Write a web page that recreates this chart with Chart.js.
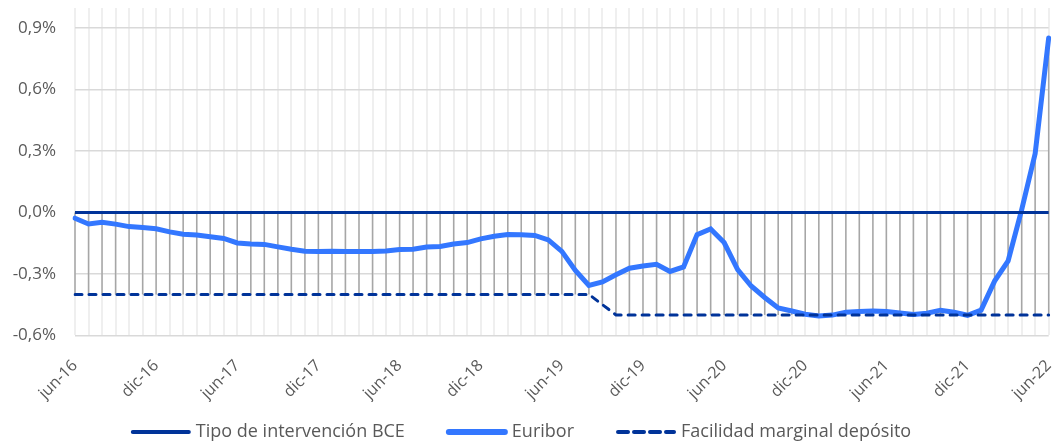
<!DOCTYPE html>
<html>
<head>
<meta charset="utf-8">
<script src="https://cdn.jsdelivr.net/npm/chart.js@4.4.1/dist/chart.umd.min.js"></script>
<style>
    html, body { margin: 0; padding: 0; background: #fff; }
    #wrap { width: 1060px; height: 443px; position: relative; }
</style>
</head>
<body>
<div id="wrap"><canvas id="chart"></canvas></div>
<script>
const monthNames = ['ene', 'feb', 'mar', 'abr', 'may', 'jun', 'jul', 'ago', 'sep', 'oct', 'nov', 'dic'];

// months jun-16 .. jun-22
const labels = [];
for (let y = 16; y <= 22; y++) {
    for (let m = 0; m < 12; m++) {
        if ((y === 16 && m < 5) || (y === 22 && m > 5)) continue;
        labels.push(monthNames[m] + '-' + y);
    }
}

const yTicks = [-0.6, -0.3, 0, 0.3, 0.6, 0.9];

const tipoBCE = labels.map(() => 0);

const euribor = [
    -0.028, -0.056, -0.048, -0.057, -0.069, -0.074, -0.080,
    -0.095, -0.106, -0.110, -0.119, -0.127, -0.149, -0.154, -0.156, -0.168, -0.180, -0.189, -0.190,
    -0.189, -0.191, -0.191, -0.190, -0.188, -0.181, -0.180, -0.169, -0.166, -0.154, -0.147, -0.129,
    -0.116, -0.108, -0.109, -0.112, -0.134, -0.190, -0.283, -0.356, -0.339, -0.304, -0.272, -0.261,
    -0.253, -0.288, -0.266, -0.108, -0.081, -0.147, -0.279, -0.359, -0.415, -0.466, -0.481, -0.497,
    -0.505, -0.501, -0.487, -0.484, -0.481, -0.484, -0.491, -0.498, -0.492, -0.477, -0.487, -0.502,
    -0.477, -0.335, -0.237, 0.013, 0.287, 0.852
];

const facilidadDeposito = [
    -0.40, -0.40, -0.40, -0.40, -0.40, -0.40, -0.40,
    -0.40, -0.40, -0.40, -0.40, -0.40, -0.40, -0.40, -0.40, -0.40, -0.40, -0.40, -0.40,
    -0.40, -0.40, -0.40, -0.40, -0.40, -0.40, -0.40, -0.40, -0.40, -0.40, -0.40, -0.40,
    -0.40, -0.40, -0.40, -0.40, -0.40, -0.40, -0.40, -0.40, -0.45, -0.50, -0.50, -0.50,
    -0.50, -0.50, -0.50, -0.50, -0.50, -0.50, -0.50, -0.50, -0.50, -0.50, -0.50, -0.50,
    -0.50, -0.50, -0.50, -0.50, -0.50, -0.50, -0.50, -0.50, -0.50, -0.50, -0.50, -0.50,
    -0.50, -0.50, -0.50, -0.50, -0.50, -0.50
];

const navy = '#003399';
const blue = '#3377ff';
const textGray = '#595959';
const fontFamily = '"Open Sans", sans-serif';

// high-low lines between the series at every month
const highLowPlugin = {
    id: 'highLow',
    beforeDatasetsDraw(chart) {
        const ctx = chart.ctx;
        const x = chart.scales.x;
        const y = chart.scales.y;
        ctx.save();
        ctx.strokeStyle = '#a6a6a6';
        ctx.lineWidth = 1.5;
        labels.forEach((_, i) => {
            const vals = chart.data.datasets.map(ds => ds.data[i]);
            const px = x.getPixelForValue(i);
            ctx.beginPath();
            ctx.moveTo(px, y.getPixelForValue(Math.max(...vals)));
            ctx.lineTo(px, y.getPixelForValue(Math.min(...vals)));
            ctx.stroke();
        });
        ctx.restore();
    }
};

// legend drawn under the axis, like the Excel one
const bottomLegend = {
    id: 'bottomLegend',
    afterDraw(chart) {
        const ctx = chart.ctx;
        const lineLen = 60, textGap = 5, itemGap = 42;
        ctx.save();
        ctx.font = '18px ' + fontFamily;
        ctx.textBaseline = 'middle';
        ctx.textAlign = 'left';
        const items = chart.data.datasets.map(ds => ({ ds: ds, w: ctx.measureText(ds.label).width }));
        const total = items.reduce((s, it) => s + lineLen + textGap + it.w, 0) + itemGap * (items.length - 1);
        let x = 521 - total / 2;
        const y = 432;
        items.forEach(it => {
            const dashed = !!it.ds.borderDash;
            ctx.strokeStyle = it.ds.borderColor;
            ctx.lineWidth = dashed ? 4 : it.ds.borderWidth + 1;
            ctx.lineCap = 'round';
            ctx.setLineDash(dashed ? [10, 6] : []);
            ctx.beginPath();
            ctx.moveTo(x + 2, y);
            ctx.lineTo(x + lineLen - 2, y);
            ctx.stroke();
            ctx.setLineDash([]);
            ctx.fillStyle = textGray;
            ctx.fillText(it.ds.label, x + lineLen + textGap, y);
            x += lineLen + textGap + it.w + itemGap;
        });
        ctx.restore();
    }
};

const ctx = document.getElementById('chart').getContext('2d');
new Chart(ctx, {
    type: 'line',
    data: {
        labels: labels,
        datasets: [
            {
                label: 'Tipo de intervención BCE',
                data: tipoBCE,
                borderColor: navy,
                borderWidth: 3,
                pointRadius: 0,
                order: 1
            },
            {
                label: 'Euribor',
                data: euribor,
                borderColor: blue,
                borderWidth: 5,
                pointRadius: 0,
                borderCapStyle: 'round',
                order: 3
            },
            {
                label: 'Facilidad marginal depósito',
                data: facilidadDeposito,
                borderColor: navy,
                borderWidth: 3,
                borderDash: [7, 7],
                borderCapStyle: 'round',
                pointRadius: 0,
                order: 2
            }
        ]
    },
    options: {
        responsive: true,
        maintainAspectRatio: false,
        animation: false,
        layout: { padding: { left: 0, right: 0, top: 8, bottom: 41 } },
        scales: {
            x: {
                offset: false,
                grid: { color: '#efefef', lineWidth: 2, drawTicks: true, tickLength: 22, tickColor: 'rgba(0,0,0,0)' },
                border: { display: false },
                ticks: {
                    autoSkip: false,
                    minRotation: 45,
                    maxRotation: 45,
                    padding: 0,
                    color: textGray,
                    font: { family: fontFamily, size: 16, lineHeight: 1 },
                    callback: (v, i) => (i % 6 === 0 ? labels[i] : '')
                }
            },
            y: {
                min: -0.6,
                max: 0.998,
                afterBuildTicks: scale => {
                    scale.ticks = yTicks.map(v => ({ value: v }));
                },
                afterFit: scale => {
                    scale.width = 75;
                },
                grid: { color: '#d9d9d9', lineWidth: 1.5, drawTicks: true, tickLength: 19, tickColor: 'rgba(0,0,0,0)' },
                border: { display: false },
                ticks: {
                    padding: 0,
                    color: textGray,
                    font: { family: fontFamily, size: 17, lineHeight: 0.9 },
                    callback: v => v.toFixed(1).replace('.', ',') + '%'
                }
            }
        },
        plugins: {
            legend: { display: false },
            tooltip: { enabled: false }
        }
    },
    plugins: [highLowPlugin, bottomLegend]
});
</script>
</body>
</html>
